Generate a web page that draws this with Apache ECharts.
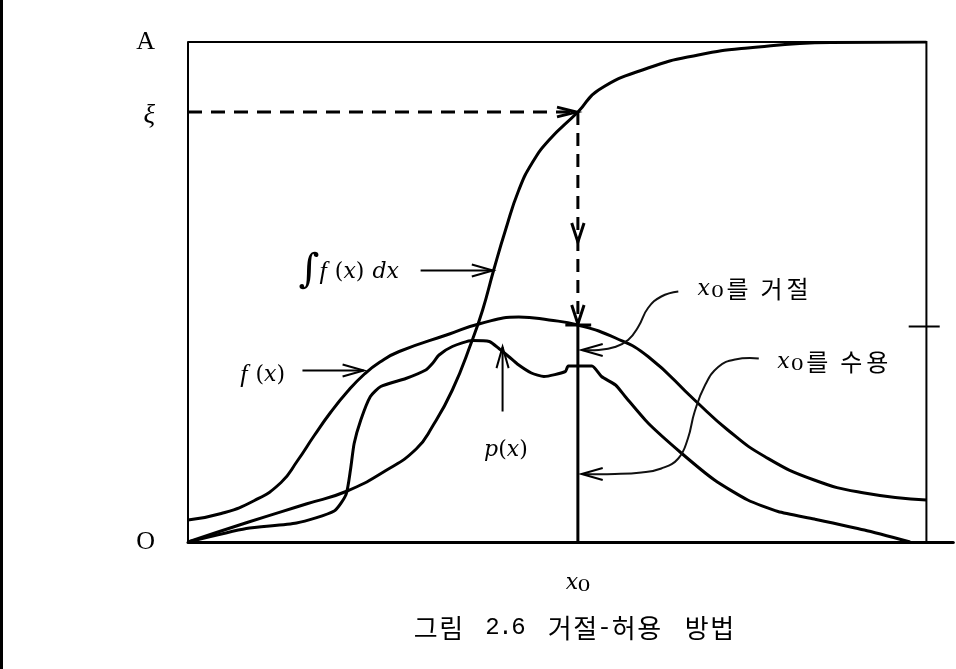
<!DOCTYPE html>
<html><head><meta charset="utf-8">
<script src="https://cdn.jsdelivr.net/npm/echarts@6/dist/echarts.min.js"></script>
<style>html,body{margin:0;padding:0;background:#fff}#c{width:956px;height:669px}</style>
</head><body><div id="c"></div>
<script>
// ---- data (x: 0..100 across the box, y: 0 = O, 100 = A) ----
const cdfX = [0, 8, 16, 21.4, 26.8, 30.9, 33.1, 35.8, 38.5, 39.9, 41.4, 43.0, 44.8, 46.6, 48.9, 52.8, 55.6, 62.3, 69.1, 75.8, 87.0, 100];
const cdfY = [0, 3.9, 7.6, 10.1, 14.3, 18.6, 23.1, 30.4, 40.4, 46.4, 54.4, 62.4, 70.4, 75.8, 80.4, 86.0, 90.4, 94.8, 97.4, 98.8, 99.9, 100];
const fX = [0, 4.5, 9.0, 12.6, 14.8, 17.1, 19.3, 21.6, 23.9, 26.0, 28.6, 35.4, 39.4, 44.8, 48.9, 52.8, 57.9, 62.3, 68.6, 73.1, 78.1, 84.8, 91.6, 100];
const fY = [4.4, 5.7, 8.3, 11.9, 16.2, 21.3, 25.9, 30.1, 33.6, 36.0, 38.1, 41.6, 43.6, 45.0, 44.4, 43.4, 40.8, 37.1, 28.4, 22.4, 17.1, 12.4, 9.8, 8.4];
const pX = [0, 7.9, 14.7, 19.8, 21.4, 22.0, 22.5, 23.4, 24.7, 26.1, 29.5, 32.2, 33.1, 34.0, 35.8, 38.5, 40.8, 42.1, 43.5, 44.6, 46.5, 48.2, 51.1, 51.5, 54.7, 56.0, 57.9, 59.2, 62.3, 66.8, 71.3, 75.8, 79.9, 84.8, 91.6, 97.8];
const pY = [0, 2.7, 3.8, 6.2, 9.5, 14.4, 19.7, 24.4, 29.1, 31.1, 32.7, 34.4, 35.7, 37.4, 39.1, 40.3, 40.1, 38.7, 37.0, 35.6, 33.8, 33.1, 34.1, 35.2, 35.2, 33.1, 31.4, 29.1, 23.8, 17.8, 12.4, 8.4, 6.1, 4.6, 2.4, 0];
const yTickValues = [100, 86, 0];
const yTickLabels = ['A', 'ξ', 'O'];
const x0 = 52.8;          // x-axis tick with label x0
const xi = 86;            // ξ level
const fAtX0 = 43.4;       // f(x0)
// annotation curves (data units)
const rejectArrowX = [66.4, 64.1, 62.3, 61.0, 59.6, 57.8, 55.6, 53.3];
const rejectArrowY = [50.1, 49.1, 46.8, 43.1, 40.4, 39.0, 38.4, 38.4];
const acceptArrowX = [77.3, 74.1, 71.8, 70.0, 68.6, 67.7, 66.4, 64.1, 61.4, 57.8, 53.3];
const acceptArrowY = [36.7, 36.5, 35.0, 31.3, 26.0, 20.7, 16.7, 14.7, 13.9, 13.6, 13.6];
const caption = '그림 2.6 거절-허용 방법';
const rejectLabel = 'x₀를 거절';
const acceptLabel = 'x₀를 수용';

const zip = (a, b) => a.map((v, i) => [v, b[i]]);

// split a string into rich-text tokens, one per character, by character class
function tokens(str, cls) {
  return Array.from(str).map(c => {
    let k;
    if (c === ' ') k = cls.sp;
    else if (c === 'x') k = cls.x;
    else if (c === '₀') k = cls.sub;
    else if (/[\uac00-\ud7a3]/.test(c)) k = cls.ko;
    else k = cls.asc;
    return '{' + k + '|' + c + '}';
  }).join('');
}

const MATH = 'DejaVu Serif';
const mathRich = {
  i: {fontFamily: MATH, fontStyle: 'italic', fontSize: 22, fill: '#000'},
  f: {fontFamily: 'Liberation Serif', fontStyle: 'italic', fontSize: 26, fill: '#000'},
  r: {fontFamily: MATH, fontSize: 22, fill: '#000'},
  int: {fontFamily: MATH, fontStyle: 'italic', fontSize: 40, fill: '#000'},
  g: {fontSize: 10, width: 8},
  lx: {fontFamily: MATH, fontStyle: 'italic', fontSize: 22, width: 14, fill: '#000'},
  lsub: {fontFamily: MATH, fontSize: 30, width: 13, fill: '#000'},
  lko: {fontFamily: 'Noto Sans CJK KR', fontSize: 24, width: 26, align: 'center', fill: '#000'},
  lsp: {fontSize: 10, width: 8}
};
const labelCls = {sp: 'lsp', x: 'lx', sub: 'lsub', ko: 'lko', asc: 'lko'};

function renderAnn(params, api) {
  const P = (x, y) => api.coord([x, y]);
  const ch = [];
  const line = (pts, w, dash) => ch.push({type: 'polyline', shape: {points: pts},
    style: {stroke: '#000', lineWidth: w, fill: null, lineDash: dash || null, lineCap: 'butt'}});
  const curve = (pts, w) => ch.push({type: 'polyline', shape: {points: pts, smooth: 0.45},
    style: {stroke: '#111', lineWidth: w, fill: null}});
  const head = (tip, from, len, ang, w) => {
    const dx = tip[0] - from[0], dy = tip[1] - from[1], L = Math.hypot(dx, dy);
    const ux = dx / L, uy = dy / L, a = ang * Math.PI / 180, c = Math.cos(a), s = Math.sin(a);
    const l = [tip[0] - len * (ux * c - uy * s), tip[1] - len * (uy * c + ux * s)];
    const r = [tip[0] - len * (ux * c + uy * s), tip[1] - len * (uy * c - ux * s)];
    line([l, tip, r], w);
  };
  const text = (x, y, str, align) => ch.push({type: 'text', x: P(x, y)[0], y: P(x, y)[1],
    style: {text: str, align: align, verticalAlign: 'middle', fill: '#000', rich: mathRich}});
  // box top + right
  line([P(0, 100), P(100, 100), P(100, 0)], 2);
  // right side tick
  line([P(97.6, 43.1), P(101.8, 43.1)], 2);
  // dashed ξ -> curve -> down
  const hEnd = P(x0 - 0.2, xi);
  line([P(0, xi), hEnd], 3, [14, 9]);
  head(hEnd, P(0, xi), 20, 14, 3);
  const vTop = P(x0, xi), vEnd = P(x0, fAtX0 + 0.2);
  line([vTop, vEnd], 3, [13, 8]);
  head(P(x0, 60), vTop, 20, 18, 3);
  head(vEnd, vTop, 20, 18, 3);
  // solid x0 line and cap
  line([P(x0, fAtX0), P(x0, 0)], 3);
  line([P(51.1, fAtX0), P(54.6, fAtX0)], 3);
  // label arrows
  let a = P(31.5, 54.3), b = P(41.3, 54.3); line([a, b], 2); head(b, a, 22, 16, 2);
  a = P(15.5, 34.3); b = P(23.8, 34.3); line([a, b], 2); head(b, a, 22, 16, 2);
  a = P(42.6, 26.1); b = P(42.6, 39.0); line([a, b], 2); head(b, a, 22, 16, 2);
  const rj = zip(rejectArrowX, rejectArrowY).map(q => P(q[0], q[1]));
  curve(rj, 2); head(rj[rj.length - 1], rj[rj.length - 2], 22, 16, 2);
  const ac = zip(acceptArrowX, acceptArrowY).map(q => P(q[0], q[1]));
  curve(ac, 2); head(ac[ac.length - 1], ac[ac.length - 2], 22, 16, 2);
  // labels
  text(15.0, 54.0, '{int|∫}{f|f}{g| }{r|(}{i|x}{r|)}{g| }{i|dx}', 'left');
  text(10.1, 33.4, '{f|f}{g| }{r|(}{i|x}{r|)}', 'center');
  text(43.05, 18.4, '{i|p}{r|(}{i|x}{r|)}', 'center');
  text(69.0, 50.6, tokens(rejectLabel, labelCls), 'left');
  text(79.8, 36.0, tokens(acceptLabel, labelCls), 'left');
  return {type: 'group', children: ch};
}

const chart = echarts.init(document.getElementById('c'), null, {renderer: 'canvas'});
chart.setOption({
  animation: false,
  backgroundColor: '#fff',
  title: {
    text: tokens(caption, {sp: 'sp', x: 'm', sub: 'm', ko: 'k', asc: 'm'}),
    left: 408, top: 610,
    textStyle: {fontWeight: 'normal', rich: {
      k: {fontFamily: 'Noto Sans CJK KR', fontSize: 26, fontWeight: 'normal', width: 25.5, align: 'center', color: '#000'},
      m: {fontFamily: 'Liberation Mono', fontSize: 24, fontWeight: 'normal', width: 13, align: 'center', color: '#000'},
      sp: {fontSize: 20, width: 22}
    }}
  },
  graphic: [{type: 'rect', left: 0, top: 0, shape: {x: 0, y: 0, width: 3, height: 669}, style: {fill: '#000'}}],
  grid: {left: 188, right: 0, top: 42, bottom: 127},
  xAxis: {
    type: 'value', min: 0, max: 103.64, interval: 0.4,
    axisLine: {show: true, lineStyle: {color: '#000', width: 3}},
    axisTick: {show: false}, splitLine: {show: false},
    axisLabel: {
      margin: 26, showMinLabel: true, showMaxLabel: false,
      formatter: v => Math.abs(v - x0) < 1e-6 ? '{i|x}{s|₀}' : '',
      rich: {
        i: {fontFamily: MATH, fontStyle: 'italic', fontSize: 22, color: '#000'},
        s: {fontFamily: MATH, fontSize: 30, color: '#000'}
      }
    }
  },
  yAxis: {
    type: 'value', min: 0, max: 100, interval: 2,
    axisLine: {show: true, lineStyle: {color: '#000', width: 2}},
    axisTick: {show: false}, splitLine: {show: false},
    axisLabel: {
      margin: 33,
      formatter: v => {
        const k = yTickValues.indexOf(v);
        if (k < 0) return '';
        return (yTickLabels[k] === 'ξ' ? '{i|' : '{r|') + yTickLabels[k] + '}';
      },
      rich: {
        i: {fontFamily: 'Liberation Serif', fontStyle: 'italic', fontSize: 27, color: '#000', padding: [8, 0, 0, 0]},
        r: {fontFamily: 'Liberation Serif', fontSize: 26, color: '#000'}
      }
    }
  },
  series: [
    {type: 'line', data: zip(cdfX, cdfY), smooth: 0.5, showSymbol: false,
     lineStyle: {color: '#000', width: 3}, z: 3},
    {type: 'line', data: zip(fX, fY), smooth: 0.5, showSymbol: false,
     lineStyle: {color: '#000', width: 3}, z: 3},
    {type: 'line', data: zip(pX, pY), smooth: 0.2, showSymbol: false,
     lineStyle: {color: '#000', width: 3}, z: 3},
    {type: 'custom', data: [[0, 0]], renderItem: renderAnn, clip: false, silent: true, z: 4}
  ]
});
</script></body></html>
